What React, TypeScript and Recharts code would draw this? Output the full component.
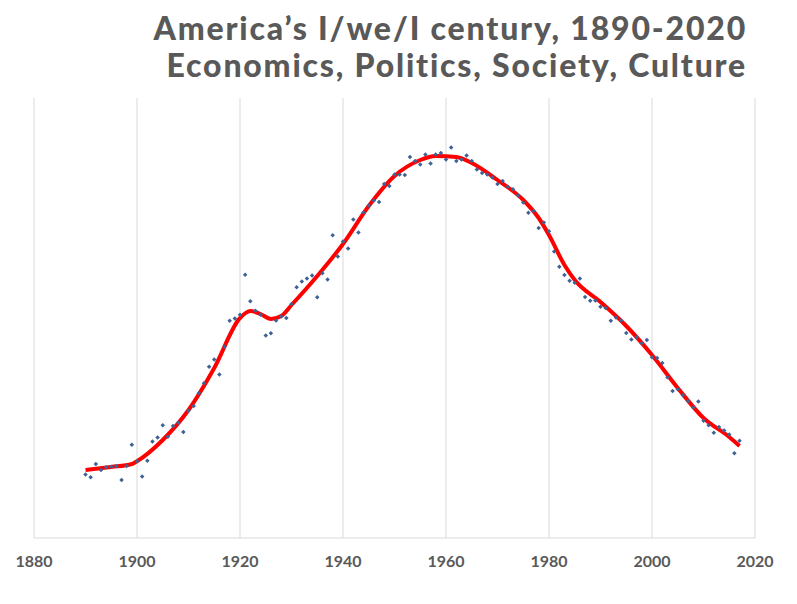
import React from "react";
import { ComposedChart, Line, Scatter, XAxis, YAxis, CartesianGrid } from "recharts";

// Annual index values (arbitrary 0-110 scale)
const YEARS_START = 1890;
const INDEX_VALUES = [
  15.9, 15.2, 18.5, 17, 17.7, 17.8, 18, 14.5, 18, 23.3,
  19.2, 15.4, 19.3, 24.1, 25.1, 28.2, 25.3, 28, 28.8, 26.5,
  31.8, 33, 36.2, 38.7, 42.8, 44.6, 40.9, 47.8, 54.3, 54.9,
  55.8, 65.8, 59.2, 56.8, 55.8, 50.6, 51.2, 54.4, 55.4, 55,
  58.5, 62.7, 64.1, 64.9, 65.6, 60.2, 66.2, 64.6, 75.7, 70.4,
  74.1, 72.4, 79.6, 76.4, 81.4, 83.1, 84.4, 84, 88.5, 88,
  90.9, 90.9, 90.75, 95.25, 94.25, 93.4, 95.9, 93.6, 95.9, 96.25,
  94.6, 97.6, 94.25, 94.6, 95.6, 94.25, 92.1, 91.25, 90.9, 90.1,
  88.5, 89.25, 87.8, 87.2, 85.7, 83.9, 81.3, 81.75, 77.5, 78.9,
  76.7, 71.6, 67.8, 65.75, 64.3, 63.8, 64.9, 60.25, 59.3, 59.4,
  57.8, 57.5, 54.3, 55.1, 54.4, 51.25, 49.6, 50.2, 48.7, 49.5,
  45.2, 45, 43.75, 40.2, 36.75, 37.2, 35.7, 34.25, 32.6, 34.1,
  29.3, 28.2, 26.3, 27.75, 26.9, 25.9, 21.2, 24.3,
];

// Smoothed trend line
const TREND_YEARS = [
  1890, 1895, 1899, 1900, 1905, 1910, 1915, 1920, 1922, 1924, 1926, 1928, 1930,
  1935, 1940, 1945, 1950, 1955, 1958, 1962, 1965, 1970, 1975, 1978, 1980, 1983,
  1985, 1990, 1995, 2000, 2005, 2010, 2015, 2017,
];
const TREND_VALUES = [
  17, 17.75, 18.5, 19.2, 24.5, 32, 42.5, 55, 56.75, 56, 54.75, 55.5, 58.25,
  65.5, 73.5, 83, 90.5, 94.5, 95.5, 95.25, 93.75, 89.5, 84.5, 80, 75.75, 68.25,
  64.5, 59, 53, 45.75, 37.5, 30, 25.25, 23,
];

const X_TICKS = [1880, 1900, 1920, 1940, 1960, 1980, 2000, 2020];

const points = INDEX_VALUES.map((v, i) => ({ year: YEARS_START + i, value: v }));
const trend = TREND_YEARS.map((y, i) => ({ year: y, value: TREND_VALUES[i] }));

const GRAY = "#595959";

const Dot = (props: any) => {
  const { cx, cy } = props;
  if (cx == null || cy == null) return null;
  return <rect x={cx - 1.6} y={cy - 1.6} width={3.2} height={3.2} fill="#3e6295" transform={`rotate(45 ${cx} ${cy})`} />;
};

export default function App() {
  return (
    <div style={{ position: "fixed", left: 0, top: 0, width: 797, height: 604, background: "#fff", fontFamily: "Lato, sans-serif" }}>
      <div
        style={{
          position: "absolute",
          right: 50,
          top: 9,
          textAlign: "right",
          color: GRAY,
          fontWeight: 900,
          fontSize: 32,
          letterSpacing: 1.8,
          lineHeight: "37px",
          whiteSpace: "nowrap",
        }}
      >
        <div>America’s I/we/I century, 1890-2020</div>
        <div>Economics, Politics, Society, Culture</div>
      </div>
      <ComposedChart width={797} height={604} margin={{ top: 98, right: 42, bottom: 36, left: 34 }}>
        <CartesianGrid horizontal={false} stroke="#d9d9d9" />
        <XAxis
          type="number"
          dataKey="year"
          domain={[1880, 2020]}
          ticks={X_TICKS}
          allowDataOverflow
          stroke="#d9d9d9"
          tickLine={false}
          tick={{ fill: GRAY, fontSize: 16, fontWeight: 700 }}
          tickMargin={12}
          height={30}
        />
        <YAxis type="number" domain={[0, 110]} hide />
        <Scatter data={points} dataKey="value" shape={<Dot />} isAnimationActive={false} />
        <Line
          data={trend}
          dataKey="value"
          type="monotone"
          stroke="#ff0000"
          strokeWidth={4}
          dot={false}
          isAnimationActive={false}
        />
      </ComposedChart>
    </div>
  );
}
